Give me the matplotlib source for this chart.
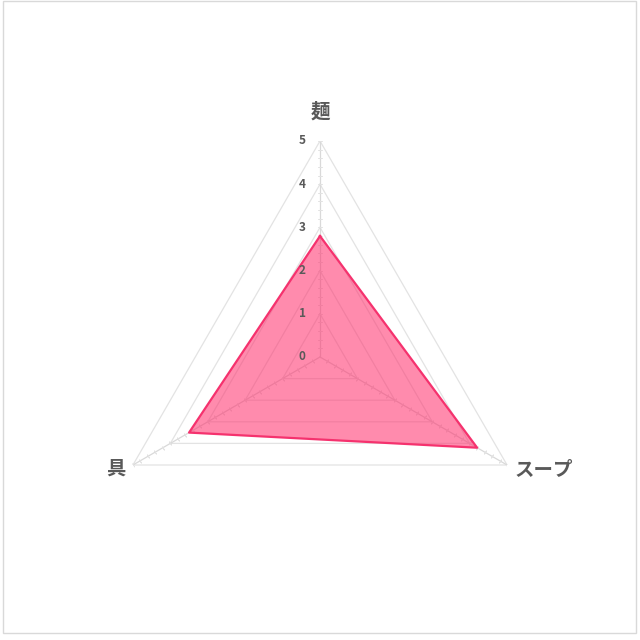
import numpy as np
import matplotlib
matplotlib.use('Agg')
from matplotlib import pyplot as plt
from matplotlib import patches
from matplotlib.transforms import ScaledTranslation

plt.rcParams['font.family'] = ['Noto Sans CJK JP', 'DejaVu Sans']

# data
categories = ['麺', 'スープ', '具']
values = [2.8, 4.2, 3.5]
r_ticks = [0, 1, 2, 3, 4, 5]
r_max = 5

GRID = '#e3e3e3'
AXIS = '#d9d9d9'
TXT = '#595959'

fig = plt.figure(figsize=(6.4, 6.4), dpi=100)
# light grey frame round the whole chart
fig.patches.append(patches.Rectangle((3 / 640, 7 / 640), 633 / 640, 632.5 / 640,
                                     transform=fig.transFigure, fill=False,
                                     edgecolor='#d9d9d9', linewidth=1))

ax = fig.add_axes([0.1625, 0.1047, 0.675, 0.675], projection='polar')
ax.set_theta_offset(np.pi / 2)
ax.set_theta_direction(-1)
ax.set_ylim(0, r_max)
ax.set_xticks([])
ax.set_yticks([])
ax.grid(False)
ax.spines['polar'].set_visible(False)
ax.patch.set_alpha(0)

n = len(categories)
theta = np.linspace(0, 2 * np.pi, n, endpoint=False)
theta_closed = np.append(theta, theta[0])

# triangular grid
for lvl in r_ticks[1:]:
    ax.plot(theta_closed, [lvl] * (n + 1), color=GRID, lw=0.9, zorder=1)

# spokes with small minor ticks
minor = np.arange(0.2, r_max + 0.01, 0.2)
for t in theta:
    ax.plot([t, t], [0, r_max], color=AXIS, lw=0.9, zorder=1)
    ang = -np.degrees(t)  # screen rotation of this spoke relative to vertical
    ax.plot([t] * len(minor), minor, ls='none', marker=(2, 2, ang + 90),
            markersize=3, markeredgewidth=0.6, color='#e2e2e2', zorder=1)

# data polygon
vals_closed = values + values[:1]
ax.fill(theta_closed, vals_closed, facecolor='#ff2d6b', alpha=0.55, zorder=2)
ax.plot(theta_closed, vals_closed, color='#f5326e', lw=1.6, zorder=3)

# radial tick labels on the top spoke
off = ScaledTranslation(-18 / 100, 0, fig.dpi_scale_trans)
for r in r_ticks:
    ax.text(0, r, str(r), transform=ax.transData + off, ha='center', va='center',
            fontsize=8.5, fontweight='bold', color=TXT)

# category labels
ax.text(theta[0], 5.67, categories[0], ha='center', va='center',
        fontsize=14, fontweight='bold', color=TXT, clip_on=False)
ax.text(theta[1], 5.2, categories[1], ha='left', va='center',
        fontsize=14, fontweight='bold', color=TXT, clip_on=False)
ax.text(theta[2], 5.2, categories[2], ha='right', va='center',
        fontsize=14, fontweight='bold', color=TXT, clip_on=False)

fig.savefig('out.png', dpi=100, facecolor='white')
